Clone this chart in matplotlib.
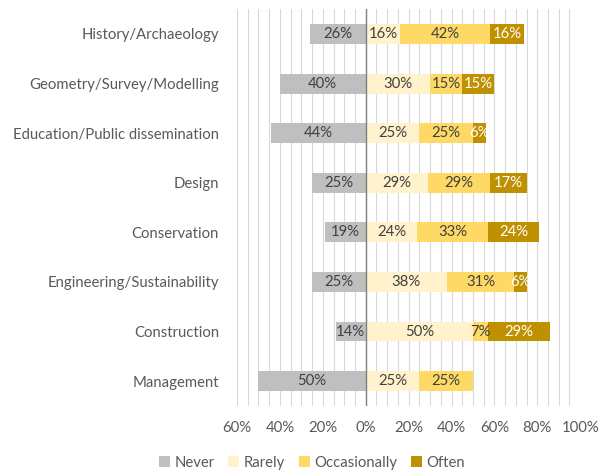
import numpy as np
import matplotlib.pyplot as plt
from matplotlib.ticker import MultipleLocator, FixedLocator

plt.rcParams['font.family'] = ['Lato', 'DejaVu Sans']

categories = ['History/Archaeology', 'Geometry/Survey/Modelling',
              'Education/Public dissemination', 'Design', 'Conservation',
              'Engineering/Sustainability', 'Construction', 'Management']
never = [26, 40, 44, 25, 19, 25, 14, 50]
rarely = [16, 30, 25, 29, 24, 38, 50, 25]
occasionally = [42, 15, 25, 29, 33, 31, 7, 25]
often = [16, 15, 6, 17, 24, 6, 29, 0]
series_names = ['Never', 'Rarely', 'Occasionally', 'Often']
colors = ['#BFBFBF', '#FFF2CC', '#FFD966', '#BF9000']
text_colors = ['#404040', '#404040', '#404040', 'white']

fig = plt.figure(figsize=(6, 4.72), dpi=100)
ax = fig.add_axes([0.395, 0.14, 0.572, 0.8405])

y = np.arange(len(categories))
h = 0.4
fs = 10.7

# never goes to the left
bars = []
b = ax.barh(y, -np.array(never), height=h, color=colors[0], label=series_names[0])
bars.append((b, never, -np.array(never) / 2))
left = np.zeros(len(categories))
for vals, c, name in zip([rarely, occasionally, often], colors[1:], series_names[1:]):
    v = np.array(vals)
    b = ax.barh(y, v, left=left, height=h, color=c, label=name)
    bars.append((b, vals, left + v / 2))
    left = left + v

for (b, vals, centers), tc in zip(bars, text_colors):
    for yi, v, cx in zip(y, vals, centers):
        if v > 0:
            ax.text(cx, yi, f'{v}%', ha='center', va='center', color=tc, fontsize=fs)

ax.set_xlim(-60, 100)
ax.set_ylim(len(categories) - 0.5, -0.5)
ax.xaxis.set_major_locator(FixedLocator(np.arange(-60, 101, 20)))
ax.xaxis.set_minor_locator(MultipleLocator(5))
ax.set_xticklabels([f'{abs(t)}%' for t in range(-60, 101, 20)])
ax.grid(axis='x', which='both', color='#D9D9D9', linewidth=0.8)
ax.set_axisbelow(True)
ax.axvline(0, color='#808080', linewidth=1, zorder=3)
ax.set_yticks(y)
ax.set_yticklabels(categories)
for s in ax.spines.values():
    s.set_visible(False)
ax.tick_params(axis='both', which='both', length=0, colors='#595959', labelsize=fs)
ax.tick_params(axis='y', pad=13)
ax.tick_params(axis='x', pad=11)

fig.legend(loc='center', bbox_to_anchor=(0.52, 0.02), ncol=4, frameon=False,
           fontsize=fs, handlelength=0.75, handleheight=0.75, handletextpad=0.3,
           columnspacing=0.9, labelcolor='#595959')

fig.savefig('out.png', dpi=100)
